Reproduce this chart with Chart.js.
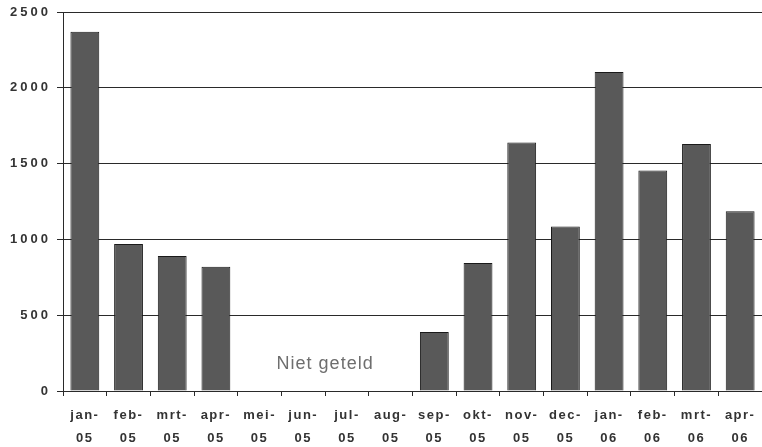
<!DOCTYPE html>
<html>
<head>
<meta charset="utf-8">
<script src="https://cdn.jsdelivr.net/npm/chart.js@4.4.1/dist/chart.umd.min.js"></script>
<style>
  html, body { margin: 0; padding: 0; background: #fff; }
  #wrap { width: 762px; height: 447px; position: relative; }
</style>
</head>
<body>
<div id="wrap"><canvas id="c"></canvas></div>
<script>
// Monthly counts, Jan 2005 – Apr 2006 (May–Aug 2005 not counted)
const months = [
  ['jan-', '05'], ['feb-', '05'], ['mrt-', '05'], ['apr-', '05'],
  ['mei-', '05'], ['jun-', '05'], ['jul-', '05'], ['aug-', '05'],
  ['sep-', '05'], ['okt-', '05'], ['nov-', '05'], ['dec-', '05'],
  ['jan-', '06'], ['feb-', '06'], ['mrt-', '06'], ['apr-', '06']
];
const counts = [2370, 970, 890, 820, null, null, null, null, 390, 845, 1640, 1085, 2105, 1455, 1630, 1185];
const yTicks = [0, 500, 1000, 1500, 2000, 2500];
const gapNote = 'Niet geteld';

const ink = '#2a2a2a';
const fontFamily = '"Liberation Sans", Arial, sans-serif';

// Wide letter spacing for the axis labels, plus the note over the uncounted months
const labelPlugin = {
  id: 'labelStyle',
  afterLayout(chart) {
    const wrap = (scale, spacing) => {
      if (scale._spaced) return;
      const orig = scale.drawLabels.bind(scale);
      scale.drawLabels = function (area) {
        const ctx = this.ctx;
        const prev = ctx.letterSpacing;
        ctx.letterSpacing = spacing;
        orig(area);
        ctx.letterSpacing = prev;
      };
      scale._spaced = true;
    };
    wrap(chart.scales.x, '1.5px');
    wrap(chart.scales.y, '3px');
  },
  afterDraw(chart) {
    const { ctx, scales } = chart;
    const x = scales.x.getPixelForValue(5.5);
    const y = scales.y.getPixelForValue(175);
    ctx.save();
    ctx.letterSpacing = '1px';
    ctx.font = '18px ' + fontFamily;
    ctx.fillStyle = '#6e6e6e';
    ctx.textAlign = 'center';
    ctx.textBaseline = 'middle';
    ctx.fillText(gapNote, x, y);
    ctx.restore();
  }
};

new Chart(document.getElementById('c'), {
  type: 'bar',
  data: {
    labels: months,
    datasets: [{
      data: counts,
      backgroundColor: '#595959',
      borderColor: '#1a1a1a',
      borderWidth: 1,
      barPercentage: 0.66,
      categoryPercentage: 1.0
    }]
  },
  options: {
    responsive: true,
    maintainAspectRatio: false,
    animation: false,
    devicePixelRatio: 1,
    layout: { padding: { top: 12, right: 0, left: 0, bottom: 0 } },
    plugins: { legend: { display: false }, tooltip: { enabled: false } },
    scales: {
      x: {
        grid: { offset: true, drawOnChartArea: false, drawTicks: true, tickLength: 5, color: ink, lineWidth: 1 },
        border: { display: true, color: ink, width: 1 },
        ticks: {
          autoSkip: false, maxRotation: 0, padding: 8, color: '#333',
          font: { family: fontFamily, size: 13, weight: 'bold', lineHeight: 1.75 }
        },
        afterFit(s) { s.height = 56; }
      },
      y: {
        min: 0, max: 2500,
        afterBuildTicks(s) { s.ticks = yTicks.map(v => ({ value: v })); },
        grid: { drawTicks: true, tickLength: 6, color: ink, lineWidth: 1 },
        border: { display: true, color: ink, width: 1 },
        ticks: {
          padding: 6, color: '#333',
          callback: v => String(v),
          font: { family: fontFamily, size: 13, weight: 'bold' }
        },
        afterFit(s) { s.width = 63; s.paddingTop = 0; }
      }
    }
  },
  plugins: [labelPlugin]
});
</script>
</body>
</html>
